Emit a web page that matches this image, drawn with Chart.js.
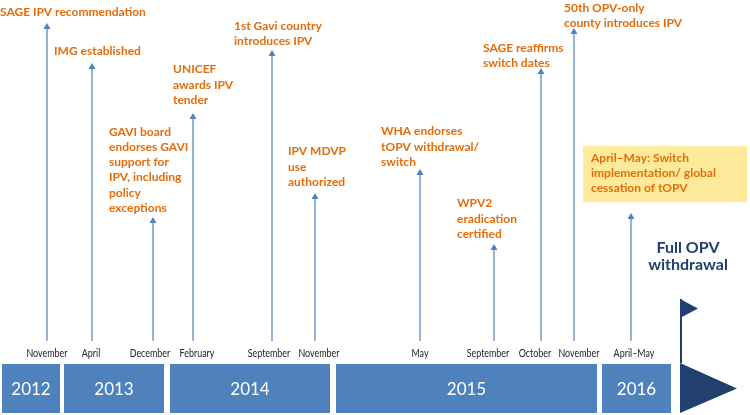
<!DOCTYPE html>
<html>
<head>
<meta charset="utf-8">
<script src="https://cdn.jsdelivr.net/npm/chart.js@4/dist/chart.umd.min.js"></script>
<style>
  html, body { margin: 0; padding: 0; background: #fff; }
  canvas { display: block; }
</style>
</head>
<body>
<canvas id="timeline" width="750" height="415"></canvas>
<script>
// 📅 Years along the bottom bar (start / end on the timeline scale)
const years = ["2012", "2013", "2014", "2015", "2016"];
const yearStart = [2, 64, 170, 336, 602];
const yearEnd = [60, 164, 330, 597, 671];

// 📍 Events: month tick labels, timeline position, arrow height
const months = ["November", "April", "December", "February", "September", "November",
  "May", "September", "October", "November", "April–May"];
const eventPos = [47, 92, 153, 193, 272, 315, 420, 494, 541, 574, 631];
const eventHeight = [388, 348, 194, 298, 361, 218, 242, 167, 343, 383, 198];
const arrowBase = 74;

const eventText = [
  ["SAGE IPV recommendation"],
  ["IMG established"],
  ["GAVI board", "endorses GAVI", "support for", "IPV, including", "policy", "exceptions"],
  ["UNICEF", "awards IPV", "tender"],
  ["1st Gavi country", "introduces IPV"],
  ["IPV MDVP", "use", "authorized"],
  ["WHA endorses", "tOPV withdrawal/", "switch"],
  ["WPV2", "eradication", "certified"],
  ["SAGE reaffirms", "switch dates"],
  ["50th OPV-only", "county introduces IPV"],
  ["April–May: Switch", "implementation/ global", "cessation of tOPV"]
];

// 🚩 Full OPV withdrawal flag
const flagPos = 681;
const flagText = ["Full OPV", "withdrawal"];

// label layout: left offset from arrow, gap between last line and arrow tip
const labelDx = [-47, -38, -44, -20, -38, -27, -39, -37, -58, -10, -40];
const labelGap = [11, 12, 9, 13, 9, 11, 7, 10, 5, 5, 0];
const monthDx = [0, -1, -3, 4, -3, 4, 0, -6, -6, 5, 3];

const ORANGE = "#E46C0A";
const BLUE = "#4F81BD";
const NAVY = "#21406F";
const LINE_H = 15.2;

// arrows: base -> tip, null to break the line
const arrowData = [];
eventPos.forEach((x, i) => {
  arrowData.push({ x: x, y: arrowBase }, { x: x, y: eventHeight[i] }, { x: x, y: null });
});

const drawTimeline = {
  id: "drawTimeline",
  beforeDraw(chart) {
    const ctx = chart.ctx;
    ctx.save();
    ctx.fillStyle = "#ffffff";
    ctx.fillRect(0, 0, chart.width, chart.height);

    // yellow highlight behind last event
    const xs = chart.scales.x;
    const last = eventText.length - 1;
    const bx = xs.getPixelForValue(eventPos[last]) - 48;
    ctx.fillStyle = "#FDEB9B";
    ctx.fillRect(bx, 146, 750 - 3 - bx, 56);
    ctx.restore();
  },
  afterDatasetsDraw(chart) {
    const ctx = chart.ctx;
    const xs = chart.scales.x, ys = chart.scales.y;
    ctx.save();

    // year bar
    const top = ys.getPixelForValue(51), bottom = ys.getPixelForValue(2);
    years.forEach((yr, i) => {
      const x0 = xs.getPixelForValue(yearStart[i]);
      const x1 = xs.getPixelForValue(yearEnd[i]);
      ctx.fillStyle = BLUE;
      ctx.fillRect(x0, top, x1 - x0, bottom - top);
      ctx.fillStyle = "#ffffff";
      ctx.font = "17px Lato";
      ctx.textAlign = "center";
      ctx.textBaseline = "middle";
      ctx.fillText(yr, (x0 + x1) / 2, (top + bottom) / 2 + 1);
    });

    // big arrow at the end of the bar
    const fx = xs.getPixelForValue(flagPos);
    ctx.fillStyle = NAVY;
    ctx.beginPath();
    ctx.moveTo(fx - 1, top - 1);
    ctx.lineTo(fx + 56, (top + bottom) / 2);
    ctx.lineTo(fx - 1, bottom);
    ctx.closePath();
    ctx.fill();

    // flag
    const poleBottom = ys.getPixelForValue(52), poleTop = ys.getPixelForValue(116);
    ctx.strokeStyle = NAVY;
    ctx.lineWidth = 2;
    ctx.beginPath();
    ctx.moveTo(fx, poleBottom);
    ctx.lineTo(fx, poleTop);
    ctx.stroke();
    ctx.beginPath();
    ctx.moveTo(fx - 1, poleTop);
    ctx.lineTo(fx + 17, poleTop + 9.5);
    ctx.lineTo(fx - 1, poleTop + 19);
    ctx.closePath();
    ctx.fill();

    ctx.fillStyle = NAVY;
    ctx.font = "bold 16px Lato";
    ctx.textAlign = "center";
    ctx.textBaseline = "middle";
    ctx.fillText(flagText[0], fx + 7, 248);
    ctx.fillText(flagText[1], fx + 7, 265);

    // month labels (squeezed a bit, like a narrow font)
    ctx.fillStyle = "#222";
    ctx.font = "10.5px Lato";
    months.forEach((m, i) => {
      const w = ctx.measureText(m).width * 0.85;
      ctx.fillText(m, xs.getPixelForValue(eventPos[i]) + monthDx[i], ys.getPixelForValue(arrowBase) + 13, w);
    });

    // event labels
    ctx.fillStyle = ORANGE;
    ctx.font = "bold 12px Lato";
    ctx.textAlign = "left";
    eventText.forEach((lines, i) => {
      const x = xs.getPixelForValue(eventPos[i]) + labelDx[i];
      let y;
      if (i === eventText.length - 1) {
        y = 158;
      } else {
        const tip = ys.getPixelForValue(eventHeight[i]) - 4;
        y = tip - labelGap[i] - (lines.length - 1) * LINE_H;
      }
      lines.forEach((ln, k) => ctx.fillText(ln, x, y + k * LINE_H));
    });
    ctx.restore();
  }
};

new Chart(document.getElementById("timeline"), {
  type: "scatter",
  data: {
    datasets: [{
      label: "Events",
      data: arrowData,
      showLine: true,
      spanGaps: false,
      borderColor: BLUE,
      borderWidth: 1.2,
      pointStyle: "triangle",
      pointRadius: ctx => (ctx.dataIndex % 3 === 1 ? 4 : 0),
      pointBackgroundColor: BLUE,
      pointBorderWidth: 0,
      pointHoverRadius: 0
    }]
  },
  options: {
    responsive: false,
    animation: false,
    events: [],
    devicePixelRatio: 1,
    layout: { padding: 0 },
    plugins: {
      legend: { display: false },
      tooltip: { enabled: false }
    },
    scales: {
      x: { type: "linear", min: 0, max: 750, display: false },
      y: { type: "linear", min: 0, max: 415, display: false }
    }
  },
  plugins: [drawTimeline]
});
</script>
</body>
</html>
